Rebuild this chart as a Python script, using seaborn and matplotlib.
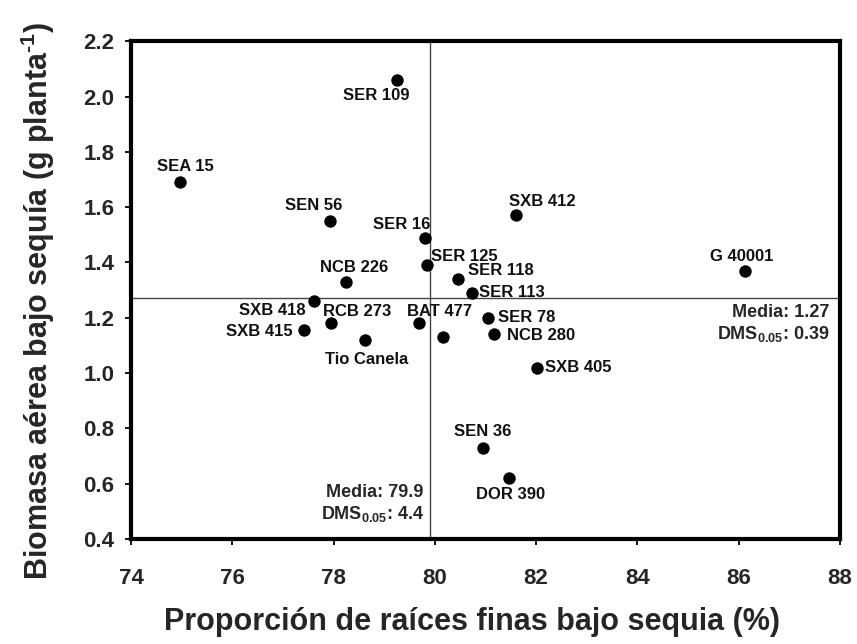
import matplotlib
matplotlib.use("Agg")
import matplotlib.pyplot as plt
import seaborn as sns
import pandas as pd

# Genotypes: fine-root proportion (%) and shoot biomass (g/plant) under drought
genotipos = ["SER 109", "SEA 15", "SEN 56", "SER 16", "SER 125", "NCB 226",
             "SXB 412", "SER 118", "SER 113", "G 40001", "SXB 418", "RCB 273",
             "SXB 415", "Tio Canela", "BAT 477", "", "SER 78", "NCB 280",
             "SXB 405", "SEN 36", "DOR 390"]
raices_finas = [79.25, 74.97, 77.93, 79.81, 79.85, 78.25,
                81.60, 80.46, 80.73, 86.12, 77.61, 77.95,
                77.42, 78.62, 79.69, 80.16, 81.05, 81.17,
                82.02, 80.95, 81.46]
biomasa = [2.06, 1.69, 1.55, 1.49, 1.39, 1.33,
           1.57, 1.34, 1.29, 1.37, 1.26, 1.18,
           1.155, 1.12, 1.18, 1.13, 1.20, 1.14,
           1.02, 0.73, 0.62]

media_x, dms_x = 79.9, 4.4
media_y, dms_y = 1.27, 0.39

x_ticks = [74, 76, 78, 80, 82, 84, 86, 88]
y_ticks = [0.4, 0.6, 0.8, 1.0, 1.2, 1.4, 1.6, 1.8, 2.0, 2.2]

# label placement: (dx, dy) in points, ha, va
label_pos = {
    "SER 109": ((-15, -6), "center", "top"),
    "SEA 15": ((4, 6), "center", "bottom"),
    "SEN 56": ((-12, 6), "center", "bottom"),
    "SER 16": ((4, 4), "right", "bottom"),
    "SER 125": ((3, 6), "left", "center"),
    "NCB 226": ((6, 5), "center", "bottom"),
    "SXB 412": ((19, 5), "center", "bottom"),
    "SER 118": ((7, 6), "left", "center"),
    "SER 113": ((5, 0), "left", "center"),
    "G 40001": ((-2, 5), "center", "bottom"),
    "SXB 418": ((-6, -7), "right", "center"),
    "RCB 273": ((-6, 3), "left", "bottom"),
    "SXB 415": ((-8, -1), "right", "center"),
    "Tio Canela": ((1, -9), "center", "top"),
    "BAT 477": ((15, 3), "center", "bottom"),
    "SER 78": ((7, 0), "left", "center"),
    "NCB 280": ((9, -1), "left", "center"),
    "SXB 405": ((6, 0), "left", "center"),
    "SEN 36": ((0, 6), "center", "bottom"),
    "DOR 390": ((1, -6), "center", "top"),
}

df = pd.DataFrame({"x": raices_finas, "y": biomasa, "g": genotipos})

sns.set_style("ticks")
plt.rcParams["font.family"] = ["Liberation Sans", "DejaVu Sans"]
plt.rcParams["font.weight"] = "bold"
plt.rcParams["mathtext.fontset"] = "custom"
plt.rcParams["mathtext.rm"] = "Liberation Sans:bold"
plt.rcParams["mathtext.bf"] = "Liberation Sans:bold"
plt.rcParams["mathtext.default"] = "bf"

fig = plt.figure(figsize=(8.57, 6.44), dpi=100)
ax = fig.add_axes([0.1529, 0.163, 0.8271, 0.773])

ax.axhline(media_y, color="#444444", lw=1.0, zorder=1)
ax.axvline(media_x, color="#444444", lw=1.0, zorder=1)

sns.scatterplot(data=df, x="x", y="y", ax=ax, color="black", s=80,
                edgecolor="black", linewidth=0, zorder=3)

for _, r in df.iterrows():
    if not r["g"]:
        continue
    (dx, dy), ha, va = label_pos[r["g"]]
    ax.annotate(r["g"], (r["x"], r["y"]), xytext=(dx, dy),
                textcoords="offset points", ha=ha, va=va,
                fontsize=12, fontweight="bold", color="#111111")

ax.text(media_x - 0.12, 0.6, "Media: %.1f\nDMS$_{0.05}$: %.1f" % (media_x, dms_x),
        ha="right", va="top", fontsize=13, fontweight="bold",
        linespacing=1.2)
ax.text(87.8, media_y - 0.02, "Media: %.2f\nDMS$_{0.05}$: %.2f" % (media_y, dms_y),
        ha="right", va="top", fontsize=13, fontweight="bold",
        linespacing=1.2)

ax.set_xlim(74, 88)
ax.set_ylim(0.4, 2.2)
ax.set_xticks(x_ticks)
ax.set_yticks(y_ticks)
ax.set_xticklabels([str(t) for t in x_ticks], fontweight="bold", fontsize=16)
ax.set_yticklabels(["%.1f" % t for t in y_ticks], fontweight="bold", fontsize=16)
ax.tick_params(axis="both", direction="out", length=4, width=1.3, color="black")
ax.tick_params(axis="x", pad=17)
ax.tick_params(axis="y", pad=8)

for sp in ax.spines.values():
    sp.set_visible(True)
    sp.set_linewidth(3)
    sp.set_color("black")

ax.set_xlabel("Proporción de raíces finas bajo sequia (%)", fontsize=22,
              fontweight="bold")
ax.set_ylabel("Biomasa aérea bajo sequía (g planta$^{\\text{-}1}$)", fontsize=22,
              fontweight="bold")
ax.xaxis.set_label_coords(0.481, -0.136)
ax.yaxis.set_label_coords(-0.104, 0.478)

fig.savefig("out.png", dpi=100)
